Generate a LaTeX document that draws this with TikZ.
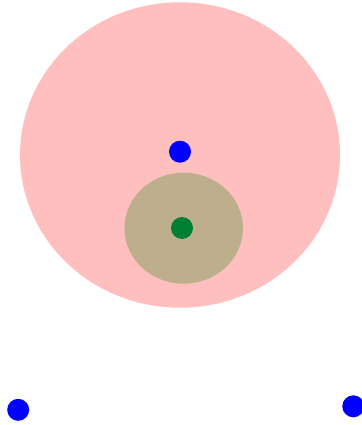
\documentclass[tikz,border=0pt]{standalone}
\definecolor{pinkfill}{HTML}{FFBFBF}
\definecolor{tanfill}{HTML}{BEAF8C}
\definecolor{dotgreen}{HTML}{008033}
\definecolor{dotblue}{HTML}{0000FF}
\tikzset{
  dot/.style={circle, fill=#1, draw=none, minimum size=22pt, inner sep=0pt},
  blob/.style={ellipse, fill=#1, draw=none, inner sep=0pt}
}
\usetikzlibrary{shapes.geometric}
\begin{document}
\begin{tikzpicture}[x=1pt,y=-1pt]
\useasboundingbox (0,0) rectangle (361,425);
\node[blob=pinkfill, minimum width=320pt, minimum height=305.5pt] (outer) at (180,155) {};
\node[blob=tanfill, minimum width=118.6pt, minimum height=111pt] (inner) at (183.7,228.2) {};
\node[dot=dotblue] (top) at (180,151.7) {};
\node[dot=dotgreen] (center) at (182,228) {};
\node[dot=dotblue] (left) at (18.2,409.8) {};
\node[dot=dotblue] (right) at (353.3,406.3) {};
\end{tikzpicture}
\end{document}
